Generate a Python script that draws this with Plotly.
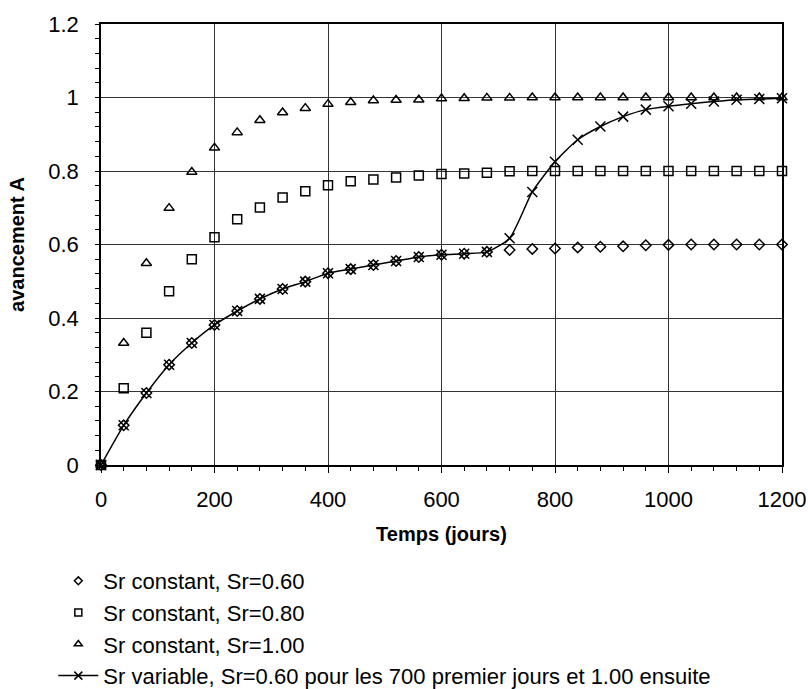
import plotly.graph_objects as go

t = [0, 40, 80, 120, 160, 200, 240, 280, 320, 360, 400, 440, 480, 520, 560, 600,
     640, 680, 720, 760, 800, 840, 880, 920, 960, 1000, 1040, 1080, 1120, 1160, 1200]

sr060 = [0, 0.108, 0.196, 0.273, 0.332, 0.381, 0.419, 0.452, 0.479, 0.499, 0.522,
         0.533, 0.544, 0.555, 0.566, 0.572, 0.575, 0.580, 0.585, 0.588, 0.589, 0.592,
         0.594, 0.595, 0.598, 0.599, 0.600, 0.600, 0.600, 0.600, 0.600]

sr080 = [0, 0.209, 0.360, 0.473, 0.560, 0.620, 0.669, 0.701, 0.728, 0.745, 0.761,
         0.772, 0.777, 0.782, 0.788, 0.792, 0.793, 0.795, 0.799, 0.800, 0.800, 0.800,
         0.800, 0.800, 0.800, 0.800, 0.800, 0.800, 0.800, 0.800, 0.800]

sr100 = [0, 0.332, 0.549, 0.699, 0.797, 0.863, 0.905, 0.938, 0.959, 0.971, 0.982,
         0.987, 0.992, 0.993, 0.994, 0.997, 0.998, 0.999, 0.999, 1.0, 1.0, 1.0,
         1.0, 1.0, 1.0, 1.0, 1.0, 1.0, 1.0, 1.0, 1.0]

srvar = [0, 0.108, 0.196, 0.273, 0.332, 0.381, 0.419, 0.452, 0.479, 0.499, 0.522,
         0.533, 0.544, 0.555, 0.566, 0.572, 0.575, 0.580, 0.617, 0.743, 0.825, 0.885,
         0.921, 0.948, 0.967, 0.976, 0.983, 0.989, 0.994, 0.996, 0.998]

names = ["Sr constant, Sr=0.60", "Sr constant, Sr=0.80", "Sr constant, Sr=1.00",
         "Sr variable, Sr=0.60 pour les 700 premier jours et 1.00 ensuite"]

x_ticks = [0, 200, 400, 600, 800, 1000, 1200]
y_ticks = [0, 0.2, 0.4, 0.6, 0.8, 1.0, 1.2]
y_tick_labels = ["0", "0.2", "0.4", "0.6", "0.8", "1", "1.2"]

FONT = "Liberation Sans, Arial, sans-serif"

series = [sr060, sr080, sr100, srvar]
symbols = ["diamond-open", "square-open", "triangle-up-open", "x-thin-open"]
sizes = [8, 9, 9, 10]
legend_sizes = [6, 7, 7, 8]
groups = ["a", "b", "c", "d"]

fig = go.Figure()
for i in range(4):
    is_line = (i == 3)
    fig.add_trace(go.Scatter(
        x=t, y=series[i], mode="lines+markers" if is_line else "markers",
        name=names[i], legendgroup=groups[i], showlegend=False,
        line=dict(color="black", width=1.5, shape="spline", smoothing=0.6),
        marker=dict(symbol=symbols[i], size=sizes[i], color="black",
                    line=dict(width=1.5, color="black")),
        cliponaxis=False))
# legend entries (smaller symbols, as in the reference legend)
for i in range(4):
    is_line = (i == 3)
    fig.add_trace(go.Scatter(
        x=[None], y=[None], mode="lines+markers" if is_line else "markers",
        name=names[i], legendgroup=groups[i], showlegend=True,
        line=dict(color="black", width=1.5),
        marker=dict(symbol=symbols[i], size=legend_sizes[i], color="black",
                    line=dict(width=1.5, color="black"))))

fig.update_layout(
    width=808, height=689,
    margin=dict(l=101, r=26, t=24, b=224),
    plot_bgcolor="white", paper_bgcolor="white",
    font=dict(family=FONT, color="black", size=22),
    showlegend=True,
    legend=dict(x=-0.07, xanchor="left", xref="paper",
                y=1 - 560 / 689, yanchor="top", yref="container",
                font=dict(family=FONT, size=22, color="black"),
                tracegroupgap=0, itemwidth=40, bgcolor="rgba(0,0,0,0)"),
    xaxis=dict(range=[0, 1200], tickvals=x_ticks, ticktext=[str(v) for v in x_ticks],
               showgrid=True, gridcolor="#333333", gridwidth=1,
               showline=True, linecolor="black", linewidth=1.5, mirror=True,
               ticks="outside", ticklen=6, tickcolor="black", zeroline=False,
               ticklabelstandoff=8, automargin=False,
               minor=dict(dtick=40, ticks="outside", ticklen=4, tickcolor="black", showgrid=False),
               tickfont=dict(size=22),
               title=dict(text="<b>Temps (jours)</b>", font=dict(size=20), standoff=16)),
    # main y axis: labels, grid, minor ticks (major tick marks transparent to set label gap)
    yaxis=dict(range=[0, 1.2], tickvals=y_ticks, ticktext=y_tick_labels,
               showgrid=True, gridcolor="#333333", gridwidth=1,
               showline=True, linecolor="black", linewidth=1.5, mirror=True,
               ticks="outside", ticklen=16, tickcolor="rgba(0,0,0,0)", zeroline=False,
               automargin=False,
               minor=dict(dtick=0.04, ticks="outside", ticklen=4, tickcolor="black", showgrid=False),
               tickfont=dict(size=22),
               title=dict(text="<b>avancement A</b>", font=dict(size=20), standoff=18)),
    # overlay y axis: visible major tick marks only
    yaxis2=dict(range=[0, 1.2], tickvals=y_ticks, overlaying="y", side="left", anchor="x",
                showticklabels=False, showgrid=False, showline=False, zeroline=False,
                ticks="outside", ticklen=6, tickcolor="black", automargin=False),
)

fig.write_html("out.html", config={"displayModeBar": False},
               post_script="document.body.style.margin='0';document.body.style.overflow='hidden';")
